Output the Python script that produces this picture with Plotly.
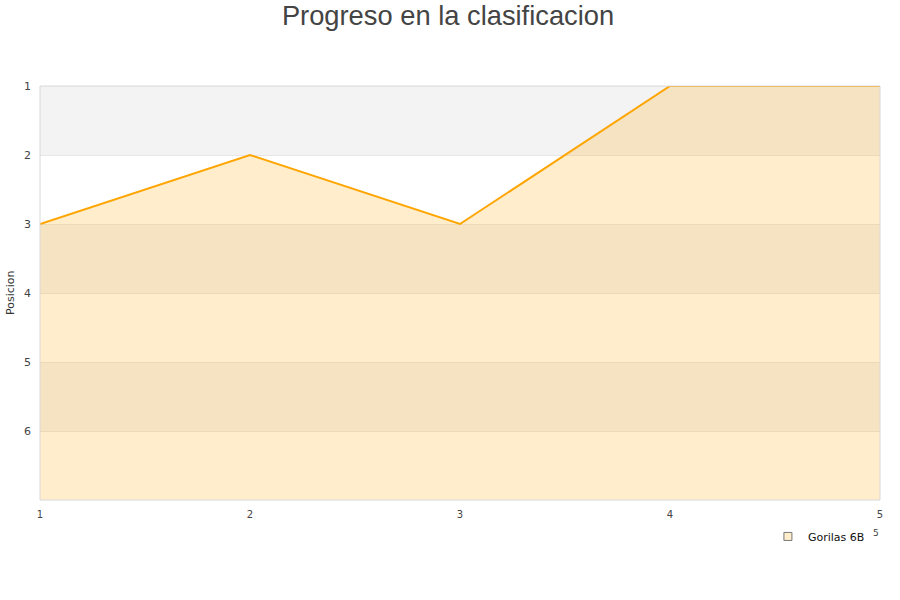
import plotly.graph_objects as go

jornadas = [1, 2, 3, 4, 5]
posiciones = [3, 2, 3, 1, 1]
serie = "Gorilas 6B"
y_ticks = [1, 2, 3, 4, 5, 6]
y_min, y_max = 1, 7

fig = go.Figure()

# bands
shapes = []
for i, lo in enumerate(range(y_min, y_max)):
    if i % 2 == 0:
        shapes.append(dict(type="rect", xref="paper", yref="y", x0=0, x1=1, y0=lo, y1=lo + 1,
                           fillcolor="#f3f3f3", line=dict(width=0), layer="below"))
shapes.append(dict(type="rect", xref="paper", yref="paper", x0=0, x1=1, y0=0, y1=1,
                   line=dict(color="#d8d8d8", width=1), fillcolor="rgba(0,0,0,0)", layer="above"))

fig.add_trace(go.Scatter(x=jornadas, y=[y_max] * len(jornadas), mode="lines",
                         line=dict(width=0), showlegend=False, hoverinfo="skip"))
fig.add_trace(go.Scatter(x=jornadas, y=posiciones, mode="lines", fill="tonexty",
                         fillcolor="rgba(255,165,0,0.2)", line=dict(color="#ffa500", width=2),
                         name=serie, showlegend=False, cliponaxis=False))
fig.add_trace(go.Scatter(x=[None], y=[None], mode="markers", name=serie,
                         marker=dict(symbol="square", size=8, color="#ffedcc",
                                     line=dict(color="#777", width=1))))

fig.update_layout(
    width=900, height=600,
    paper_bgcolor="white", plot_bgcolor="white",
    margin=dict(l=40, r=20, t=86, b=100, autoexpand=False),
    title=dict(text="Progreso en la clasificacion", x=0.4978, xanchor="center", y=0.975, yanchor="middle",
               font=dict(family="Liberation Sans, Arial", size=27.3, color="#444")),
    font=dict(family="DejaVu Sans, Arial", color="#444"),
    shapes=shapes,
    xaxis=dict(range=[1, 5], tickvals=jornadas, showgrid=False, zeroline=False, showline=False,
               ticks="", tickfont=dict(size=10, color="#444"), automargin=False,
               ticklabelstandoff=7),
    yaxis=dict(range=[y_max, y_min], tickvals=y_ticks, showgrid=True, gridcolor="#e6e6e6",
               gridwidth=1, zeroline=False, showline=False, ticks="", ticklabelstandoff=8,
               tickfont=dict(size=11, color="#444"), automargin=False),
    legend=dict(orientation="h", x=0.988, xanchor="right", y=-0.053, yanchor="top",
                font=dict(size=11, color="#111"), bgcolor="rgba(0,0,0,0)"),
    annotations=[
        dict(text="5", xref="paper", yref="paper", x=0.995, y=-0.079, showarrow=False,
             font=dict(size=9, color="#444"), xanchor="center", yanchor="middle"),
        dict(text="Posicion", xref="paper", yref="paper", x=-0.0357, y=0.5, showarrow=False,
             textangle=-90, font=dict(size=11, color="#333"), xanchor="center", yanchor="middle"),
    ],
)

fig.write_html("out.html", config={"displayModeBar": False},
               post_script="document.body.style.margin='0';")
